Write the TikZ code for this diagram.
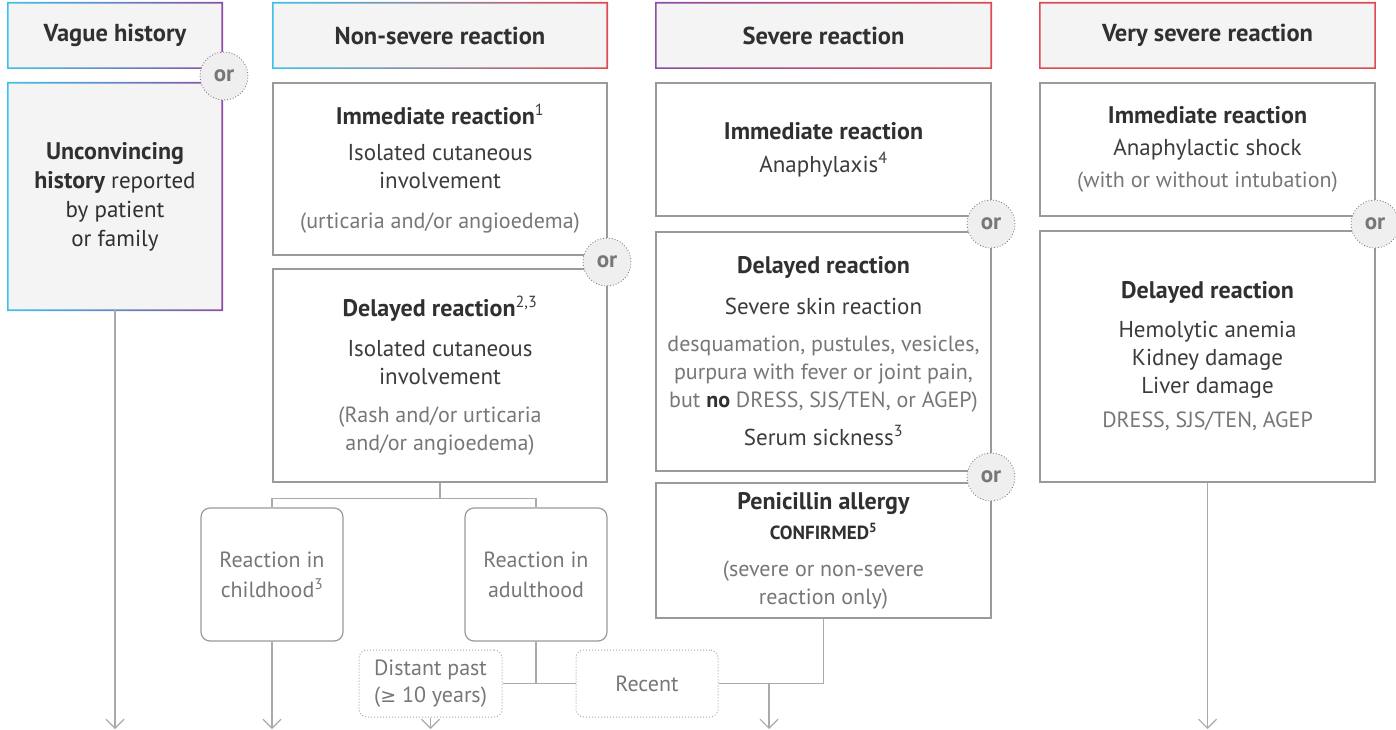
\documentclass[tikz,border=0pt]{standalone}
\usepackage{fontspec}
\setmainfont{PT Sans}
\newfontfamily\symfont{DejaVu Sans}
\usetikzlibrary{arrows.meta,calc}
\definecolor{tdark}{HTML}{303030}
\definecolor{tmid}{HTML}{3C3C3C}
\definecolor{tlight}{HTML}{777777}
\definecolor{boxg}{HTML}{9A9A9A}
\definecolor{lineg}{HTML}{AAAAAA}
\definecolor{hfill}{HTML}{F4F4F4}
\definecolor{gcyan}{HTML}{3EC1EA}
\definecolor{gpurple}{HTML}{8B4FA3}
\definecolor{gred}{HTML}{E04A52}
\definecolor{orfill}{HTML}{EFEFEF}
\newcommand\gborder[2]{%
  \shade[even odd rule,#2] ([shift={(-0.8,-0.8)}]#1.north west) rectangle ([shift={(0.8,0.8)}]#1.south east)
    ([shift={(0.8,0.8)}]#1.north west) rectangle ([shift={(-0.8,-0.8)}]#1.south east);}
\tikzset{
  base/.style={inner sep=0pt, align=center, text=tmid, font=\fontsize{23}{28}\selectfont},
  hdr/.style={base, fill=hfill, minimum height=65pt, text=tdark, font=\fontsize{24.5}{28}\selectfont\bfseries},
  plainbox/.style={base, draw=boxg, line width=1.2pt, fill=white},
  gbox/.style={base, fill=hfill, text=tdark},
  rbox/.style={base, draw=boxg, line width=1.2pt, rounded corners=9pt, text=tlight, minimum width=142pt, minimum height=133pt, font=\fontsize{22}{30}\selectfont},
  dbox/.style={base, draw=lineg, line width=1pt, dotted, rounded corners=8pt, text=tlight, minimum height=67pt, font=\fontsize{22}{27}\selectfont},
  orc/.style={circle, draw=gray, line width=0.9pt, dotted, fill=orfill, minimum size=48pt, inner sep=0pt,
     text=tlight, font=\fontsize{23}{24}\selectfont\bfseries},
  conn/.style={draw=lineg, line width=1.2pt},
  arr/.style={conn, -{Straight Barb[length=9pt,width=18pt,line width=1.2pt]}}
}
\newcommand\tb[1]{{\fontsize{24}{28}\selectfont\bfseries\color{tdark}#1}}
\newcommand\lt[1]{{\fontsize{22}{28}\selectfont\color{tlight}#1}}
\newcommand\supx[1]{\textsuperscript{#1}}
\begin{document}
\begin{tikzpicture}[x=1pt,y=-1pt]
\useasboundingbox (0,0) rectangle (1396,730);
% headers
\node[hdr, minimum width=214pt] (h1) at (115,35.5) {Vague history};
\node[hdr, minimum width=334pt] (h2) at (440,35.5) {Non-severe reaction};
\node[hdr, minimum width=335pt] (h3) at (823.5,35.5) {Severe reaction};
\node[hdr, minimum width=335pt] (h4) at (1207.5,35.5) {Very severe reaction};
\gborder{h1}{left color=gcyan,right color=gpurple}
\gborder{h2}{left color=gcyan,middle color=gpurple,right color=gred}
\gborder{h3}{left color=gpurple,right color=gred}
\gborder{h4}{left color=gred,right color=gred}
% column 1
\node[gbox, minimum width=214pt, minimum height=227pt, font=\fontsize{23}{29}\selectfont] (b1) at (115,196.5)
  {\tb{Unconvincing}\\ \tb{history} reported\\ by patient\\ or family};
\gborder{b1}{left color=gcyan,right color=gpurple}
% column 2
\node[plainbox, minimum width=334pt, minimum height=172pt] (n1) at (440,169)
  {\tb{Immediate reaction}\supx{1}\\[8pt] Isolated cutaneous\\ involvement\\[12pt] \lt{(urticaria and/or angioedema)}};
\node[plainbox, minimum width=334pt, minimum height=213pt] (n2) at (440,375.5)
  {\tb{Delayed reaction}\supx{2,3}\\[12pt] Isolated cutaneous\\ involvement\\[10pt] \lt{(Rash and/or urticaria}\\ \lt{and/or angioedema)}};
\node[rbox] (c1) at (272,574.5) {Reaction in\\ childhood\supx{3}};
\node[rbox] (c2) at (536,574.5) {Reaction in\\ adulthood};
\node[dbox, minimum width=143pt] (d1) at (430.5,683.5) {Distant past\\ ({\symfont\fontsize{19}{27}\selectfont ≥} 10 years)};
\node[dbox, minimum width=142pt] (d2) at (647,683.5) {Recent};
% column 3
\node[plainbox, minimum width=335pt, minimum height=133pt] (s1) at (823.5,149.5)
  {\tb{Immediate reaction}\\[5pt] Anaphylaxis\supx{4}};
\node[plainbox, minimum width=335pt, minimum height=239pt] (s2) at (823.5,351.5)
  {\tb{Delayed reaction}\\[13pt] Severe skin reaction\\[9pt]
   \lt{desquamation, pustules, vesicles,}\\ \lt{purpura with fever or joint pain,}\\ \lt{but {\color{tdark}\bfseries no} DRESS, SJS/TEN, or AGEP)}\\[10pt] Serum sickness\supx{3}};
\node[plainbox, minimum width=335pt, minimum height=135pt] (s3) at (823.5,550.5)
  {\tb{Penicillin allergy}\\[2pt] {\color{tdark}\fontsize{19}{20}\selectfont\bfseries CONFIRMED\supx{5}}\\[9pt]
   \lt{(severe or non-severe}\\ \lt{reaction only)}};
% column 4
\node[plainbox, minimum width=335pt, minimum height=133pt] (v1) at (1207.5,149.5)
  {\tb{Immediate reaction}\\[4pt] Anaphylactic shock\\[4pt] \lt{(with or without intubation)}};
\node[plainbox, minimum width=335pt, minimum height=251pt] (v2) at (1207.5,356.5)
  {\tb{Delayed reaction}\\[11pt] Hemolytic anemia\\ Kidney damage\\ Liver damage\\[6pt] \lt{DRESS, SJS/TEN, AGEP}};
% connector end points
\coordinate (e1) at (115,729);
\coordinate (e2) at (272,729);
\coordinate (e3) at (430.5,729);
\coordinate (j1) at (769,683.5);
\coordinate (e4) at (769,729);
\coordinate (e5) at (1207.5,729);
% connectors
\draw[arr] (b1.south) -- (e1);
\draw[conn] (n2.south) -- ++(0,16) -| (c1.north);
\draw[conn] (n2.south) -- ++(0,16) -| (c2.north);
\draw[arr] (c1.south) -- (e2);
\draw[conn] (c2.south) -- (c2.south |- d1.east);
\draw[conn] (d1.east) -- (d2.west);
\draw[arr] (d1.south) -- (e3);
\draw[conn] (s3.south) |- (d2.east);
\draw[arr] (j1) -- (e4);
\draw[arr] (v2.south) -- (e5);
% or circles
\node[orc] (o1) at (224,76) {or};
\node[orc] (o2) at (607,262) {or};
\node[orc] (o3) at (991,224) {or};
\node[orc] (o4) at (991,477) {or};
\node[orc] (o5) at (1375,224) {or};
\end{tikzpicture}
\end{document}
